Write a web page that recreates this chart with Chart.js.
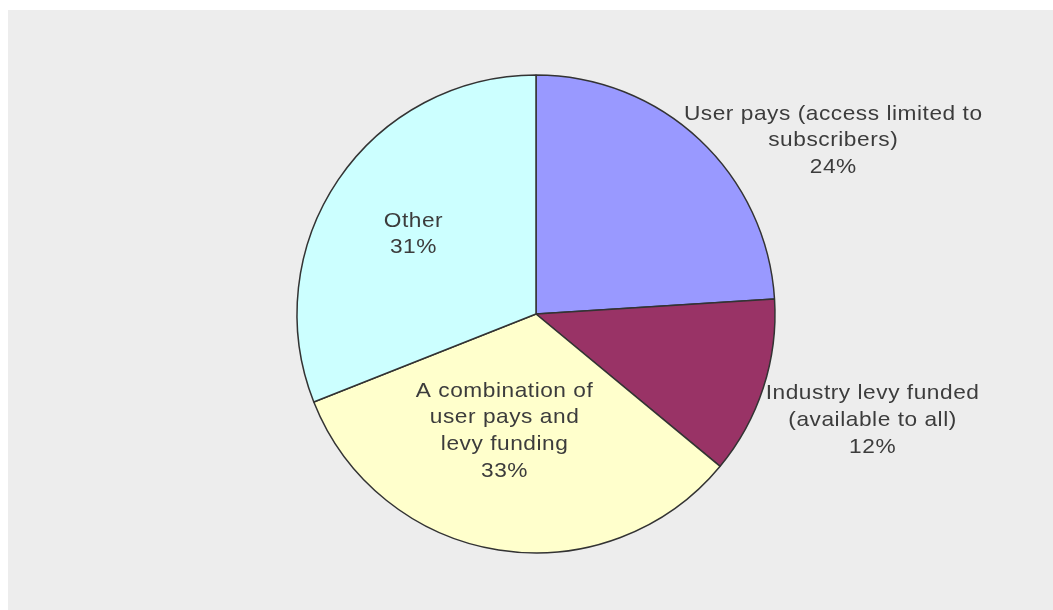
<!DOCTYPE html>
<html lang="en">
<head>
  <meta charset="UTF-8" />
  <title>Funding model</title>
  <style>
    * {
      margin: 0;
      padding: 0;
      box-sizing: border-box;
    }

    body {
      background: #ffffff;
      width: 1053px;
      height: 610px;
      overflow: hidden;
    }

    /* grey plot panel */
    .chart-box {
      position: absolute;
      left: 8px;
      top: 10px;
      width: 1045px;
      height: 600px;
      background: #ededed;
    }
  </style>
</head>
<body>
  <div class="chart-box">
    <canvas id="fundingChart" width="1045" height="600"></canvas>
  </div>

  <script src="https://cdn.jsdelivr.net/npm/chart.js"></script>
  <script>
    // Slices, clockwise from 12 o'clock
    const categories = [
      ['User pays (access limited to', 'subscribers)'],
      ['Industry levy funded', '(available to all)'],
      ['A combination of', 'user pays and', 'levy funding'],
      ['Other']
    ];
    const shares = [24, 12, 33, 31];
    const sliceColors = ['#9999ff', '#993366', '#ffffcc', '#ccffff'];

    // where each label sits: radius factor along the mid angle, then a nudge
    const labelPlacement = [
      { r: 1.45, dx: 60, dy: 85 },
      { r: 1.45, dx: 7, dy: 5 },
      { r: 0.52, dx: -12, dy: 0 },
      { r: 0.61, dx: -2, dy: 8 }
    ];

    const sliceLabels = {
      id: 'sliceLabels',
      afterDatasetsDraw(chart) {
        const ctx = chart.ctx;
        const arcs = chart.getDatasetMeta(0).data;
        ctx.save();
        ctx.font = '21px "Liberation Sans", Arial, sans-serif';
        ctx.letterSpacing = '0.5px';
        ctx.fillStyle = '#3c3c3c';
        ctx.textAlign = 'center';
        ctx.textBaseline = 'alphabetic';
        const lineH = 26.7;
        arcs.forEach((arc, i) => {
          const mid = (arc.startAngle + arc.endAngle) / 2;
          const p = labelPlacement[i];
          const cx = arc.x + Math.cos(mid) * arc.outerRadius * p.r + p.dx;
          const cy = arc.y + Math.sin(mid) * arc.outerRadius * p.r + p.dy;
          const lines = categories[i].concat([shares[i] + '%']);
          const first = cy - (lines.length - 1) * lineH / 2;
          lines.forEach((t, k) => {
            // slightly widened glyphs
            ctx.save();
            ctx.translate(cx, first + k * lineH);
            ctx.scale(1.08, 1);
            ctx.fillText(t, 0, 0);
            ctx.restore();
          });
        });
        ctx.restore();
      }
    };

    new Chart(document.getElementById('fundingChart'), {
      type: 'pie',
      data: {
        labels: categories,
        datasets: [{
          data: shares,
          backgroundColor: sliceColors,
          borderColor: '#333333',
          borderWidth: 1.5
        }]
      },
      options: {
        responsive: false,
        animation: false,
        radius: 239,
        layout: { padding: { left: 11, top: 8 } },
        plugins: {
          legend: { display: false },
          tooltip: { enabled: false }
        }
      },
      plugins: [sliceLabels]
    });
  </script>
</body>
</html>
